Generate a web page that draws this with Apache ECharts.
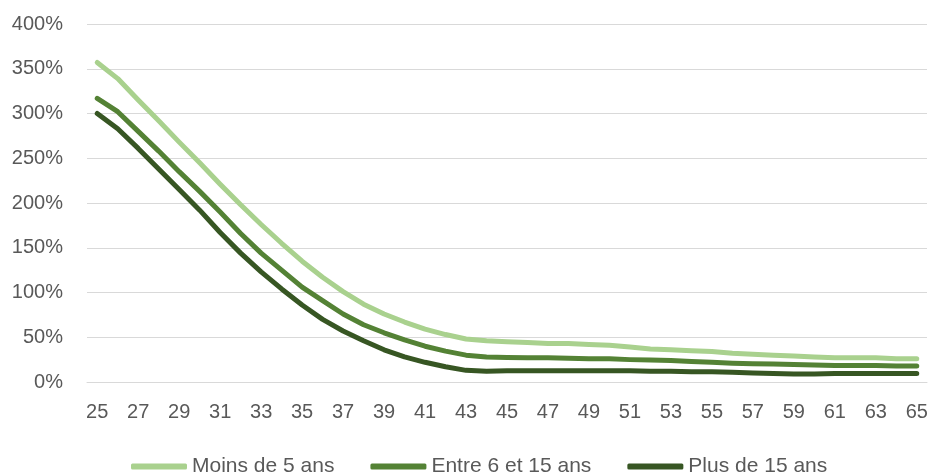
<!DOCTYPE html>
<html>
<head>
<meta charset="utf-8">
<script src="https://cdn.jsdelivr.net/npm/echarts@6/dist/echarts.min.js"></script>
<style>
  html, body { margin: 0; padding: 0; background: #ffffff; }
  #chart { width: 933px; height: 475px; }
</style>
</head>
<body>
<div id="chart"></div>
<script>
// Âge (années)
const ages = [];
for (let a = 25; a <= 65; a++) ages.push(String(a));

// Ratios en pourcentage, par ancienneté
const moinsDe5 = [357, 339, 315, 292, 268, 245, 221, 198, 176, 155,
                  135, 117, 101, 87, 76, 67, 59, 53, 48, 46,
                  45, 44, 43, 43, 42, 41, 39, 37, 36, 35,
                  34, 32, 31, 30, 29, 28, 27, 27, 27, 26, 26];
const entre6et15 = [317, 302, 280, 258, 235, 213, 190, 166, 144, 125,
                    106, 91, 76, 64, 55, 47, 40, 34.5, 30, 28,
                    27.5, 27, 27, 26.5, 26, 26, 25, 24.5, 24, 23,
                    22, 21, 20.5, 20, 19.5, 19, 18.5, 18.5, 18.5, 18, 18];
const plusDe15 = [300, 283, 261, 238, 215, 192, 167, 144, 123, 104,
                  86, 70, 57, 46, 36, 28, 22, 17, 13, 12,
                  12.5, 12.5, 12.5, 12.5, 12.5, 12.5, 12.5, 12, 12, 11.5,
                  11.5, 11, 10, 9.5, 9, 9, 9.5, 9.5, 9.5, 9.5, 9.5];

const seriesNames = ['Moins de 5 ans', 'Entre 6 et 15 ans', 'Plus de 15 ans'];
const seriesColors = ['#A9D18E', '#548235', '#375623'];
const seriesData = [moinsDe5, entre6et15, plusDe15];

const font = 'Liberation Sans, Arial, sans-serif';
const textColor = '#595959';
const gridColor = '#D9D9D9';

const chart = echarts.init(document.getElementById('chart'), null, { renderer: 'canvas' });

chart.setOption({
  animation: false,
  backgroundColor: '#ffffff',
  grid: { left: 87, right: 6, top: 24, bottom: 93, containLabel: false },
  legend: {
    data: seriesNames.map((name, i) => ({
      name: name,
      icon: 'roundRect',
      itemStyle: { color: seriesColors[i], borderWidth: 0, opacity: 1 }
    })),
    left: 126,
    top: 451,
    itemWidth: 56,
    itemHeight: 6,
    itemGap: 36,
    textStyle: { fontFamily: font, fontSize: 21, color: textColor }
  },
  xAxis: {
    type: 'category',
    data: ages,
    boundaryGap: true,
    axisLine: { show: true, lineStyle: { color: gridColor, width: 1 } },
    axisTick: { show: false },
    axisLabel: { interval: 1, margin: 20, fontFamily: font, fontSize: 20, color: textColor }
  },
  yAxis: {
    type: 'value',
    min: 0,
    max: 400,
    interval: 50,
    axisLine: { show: false },
    axisTick: { show: false },
    splitLine: { lineStyle: { color: gridColor, width: 1 } },
    axisLabel: { margin: 24, fontFamily: font, fontSize: 20, color: textColor, formatter: '{value}%' }
  },
  series: seriesNames.map((name, i) => ({
    name: name,
    type: 'line',
    data: seriesData[i],
    symbol: 'none',
    smooth: false,
    color: seriesColors[i],
    itemStyle: { color: seriesColors[i] },
    lineStyle: { width: 5, color: seriesColors[i], cap: 'round', join: 'round' }
  }))
});
</script>
</body>
</html>
